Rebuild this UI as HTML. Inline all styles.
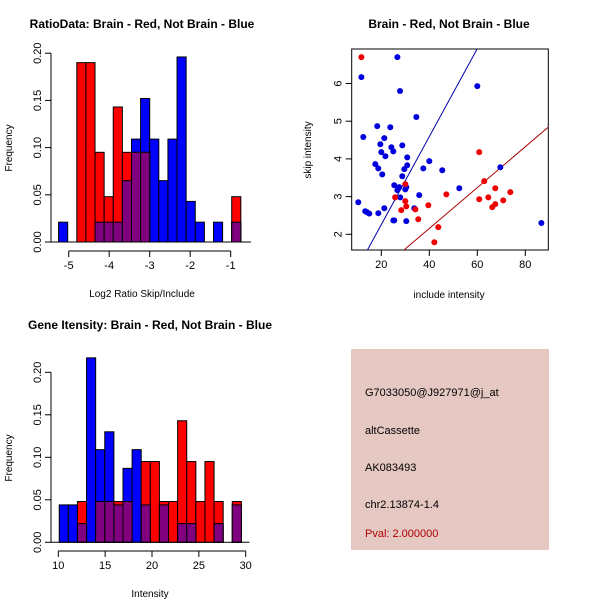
<!DOCTYPE html>
<html><head><meta charset="utf-8"><style>
html,body{margin:0;padding:0;background:#fff;}
svg{display:block;font-family:"Liberation Sans",sans-serif;}
</style></head><body>
<svg id="s" width="600" height="600" viewBox="0 0 600 600">
<rect width="600" height="600" fill="#fff"/>
<text x="142" y="28" font-size="12" font-weight="bold" text-anchor="middle">RatioData: Brain - Red, Not Brain - Blue</text>
<text x="449" y="28" font-size="12" font-weight="bold" text-anchor="middle">Brain - Red, Not Brain - Blue</text>
<text x="150" y="329" font-size="12" font-weight="bold" text-anchor="middle">Gene Itensity: Brain - Red, Not Brain - Blue</text>
<text x="142" y="297" font-size="10" text-anchor="middle">Log2 Ratio Skip/Include</text>
<text x="12" y="148" font-size="10" text-anchor="middle" transform="rotate(-90 12 148)">Frequency</text>
<text x="449" y="298" font-size="10" text-anchor="middle">include intensity</text>
<text x="311" y="150" font-size="10" text-anchor="middle" transform="rotate(-90 311 150)">skip intensity</text>
<text x="150" y="597" font-size="10" text-anchor="middle">Intensity</text>
<text x="12" y="458" font-size="10" text-anchor="middle" transform="rotate(-90 12 458)">Frequency</text>
<g>
<rect x="351" y="349" width="198" height="201" fill="#e6c8c2"/>
<text x="365" y="396" font-size="11">G7033050@J927971@j_at</text>
<text x="365" y="434" font-size="11">altCassette</text>
<text x="365" y="471" font-size="11">AK083493</text>
<text x="365" y="508" font-size="11">chr2.13874-1.4</text>
<text x="365" y="537" font-size="11" fill="#b00000">Pval: 2.000000</text>
</g>
</svg>
<script>
// ratio histogram data
const ratioStart = -5.25, ratioBinWidth = 0.225;
const ratioBlue = [0.021,0,0,0,0.021,0.021,0.021,0.065,0.109,0.152,0.109,0.065,0.109,0.196,0.043,0.021,0,0.021,0,0.021];
const ratioRed  = [0,0,0.19,0.19,0.095,0.048,0.143,0.095,0.095,0.095,0,0,0,0,0,0,0,0,0,0.048];
const ratioXTicks = [-5,-4,-3,-2,-1];
const ratioYTicks = ["0.00","0.05","0.10","0.15","0.20"];
// intensity histogram data
const intStart = 10.1, intBinWidth = 0.972;
const intBlue = [0.044,0.044,0.022,0.217,0.109,0.13,0.044,0.087,0.109,0.044,0,0.044,0,0.022,0.022,0,0,0.022,0,0.044];
const intRed  = [0,0,0.048,0,0.048,0.048,0.048,0.048,0,0.095,0.095,0.048,0.048,0.143,0.095,0.048,0.095,0.048,0,0.048];
const intXTicks = [10,15,20,25,30];
const intYTicks = ["0.00","0.05","0.10","0.15","0.20"];
// scatter data
const blueX = [26.7,11.7,27.8,60.0,34.6,18.3,23.75,12.5,21.25,19.6,24.2,20.0,25.0,28.75,21.7,30.8,40.0,17.5,18.75,29.6,30.8,37.5,45.4,20.4,28.75,25.4,27.5,30.4,26.7,30.0,52.5,27.9,35.8,10.4,13.3,14.2,15.0,18.75,21.25,33.75,25.0,25.4,30.4,69.6,86.7,25.8];
const blueY = [6.70,6.17,5.80,5.93,5.11,4.87,4.84,4.58,4.55,4.39,4.31,4.18,4.20,4.36,4.07,4.04,3.94,3.86,3.75,3.73,3.83,3.75,3.70,3.59,3.54,3.30,3.25,3.25,3.17,3.19,3.22,2.98,3.04,2.85,2.61,2.58,2.55,2.56,2.69,2.69,2.37,2.37,2.35,3.78,2.30,2.98];
const redX = [11.7,60.8,30.0,62.9,67.5,47.1,60.8,64.6,73.75,67.5,66.25,70.8,25.8,30.0,30.4,39.6,28.3,34.2,35.4,43.75,42.1];
const redY = [6.70,4.18,3.33,3.41,3.22,3.06,2.93,2.98,3.12,2.80,2.72,2.90,2.98,2.88,2.74,2.77,2.64,2.66,2.40,2.19,1.79];
const blueFit = [-0.077,0.1167];
const redFit = [-0.013,0.0542];
const scatterXTicks = [20,40,60,80];
const scatterYTicks = [2,3,4,5,6];

const NS="http://www.w3.org/2000/svg", svg=document.getElementById('s');
function mk(tag,attrs,parent){const e=document.createElementNS(NS,tag);for(const k in attrs)e.setAttribute(k,attrs[k]);(parent||svg).appendChild(e);return e;}

function hist(name,start,bw,blue,red,xticks,yticks,sx,sy,xAxisY,yAxisX,xmin,xmax,ymax){
  const g=mk('g',{});
  
  
  const X=v=>sx(v), Y=v=>sy(v);
  const layers=[[blue,'#0000ff','blue'],[red,'#ff0000','red'],[blue.map((b,i)=>Math.min(b,red[i])),'#800080','overlap']];
  layers.forEach(([arr,col,lab])=>{
    arr.forEach((v,i)=>{
      if(v<=0)return;
      const x0=X(start+i*bw),x1=X(start+(i+1)*bw);
      const r=mk('rect',{x:x0,y:Y(v),width:x1-x0,height:Y(0)-Y(v),fill:col,stroke:'#000','stroke-width':1},g);
      
      
    });
  });
  const xa=mk('g',{},g);
  
  
  mk('line',{x1:X(xticks[0]),x2:X(xticks[xticks.length-1]),y1:xAxisY,y2:xAxisY,stroke:'#000'},xa);
  xticks.forEach(t=>{
    mk('line',{x1:X(t),x2:X(t),y1:xAxisY,y2:xAxisY+6,stroke:'#000'},xa);
    const tx=mk('text',{x:X(t),y:xAxisY+18,'font-size':11,'text-anchor':'middle'},xa);tx.textContent=t;
  });
  const ya=mk('g',{},g);
  
  
  mk('line',{x1:yAxisX,x2:yAxisX,y1:Y(0),y2:Y(+yticks[yticks.length-1]),stroke:'#000'},ya);
  yticks.forEach(t=>{
    const yy=Y(+t);
    mk('line',{x1:yAxisX-6,x2:yAxisX,y1:yy,y2:yy,stroke:'#000'},ya);
    const tx=mk('text',{x:yAxisX-10,y:yy,'font-size':11,'text-anchor':'middle',transform:`rotate(-90 ${yAxisX-10} ${yy})`},ya);tx.textContent=t;
  });
  mk('line',{x1:yAxisX,x2:X(xmax),y1:Y(0),y2:Y(0),stroke:'#000'},g);
}
hist('ratio-histogram',ratioStart,ratioBinWidth,ratioBlue,ratioRed,ratioXTicks,ratioYTicks,
  v=>68.7+(v+5)*40.5, v=>242-v*944, 251, 51, -5.3, -0.5, 0.2);
hist('intensity-histogram',intStart,intBinWidth,intBlue,intRed,intXTicks,intYTicks,
  v=>58.3+(v-10)*9.37, v=>542.3-v*850, 551, 51, 10, 30.4, 0.2);

// scatter
(function(){
  const L=351.7,R=548.3,T=49,B=250;
  const sx=v=>333.3+v*2.4, sy=v=>234.3-(v-2)*37.7;
  const g=mk('g',{});
  
  
  mk('defs',{},g).innerHTML='<clipPath id="cp"><rect x="'+L+'" y="'+T+'" width="'+(R-L)+'" height="'+(B-T)+'"/></clipPath>';
  const box=mk('rect',{x:L,y:T,width:R-L,height:B-T,fill:'none',stroke:'#000'},g);
  
  
  scatterXTicks.forEach(t=>{
    mk('line',{x1:sx(t),x2:sx(t),y1:B,y2:B+6,stroke:'#000'},g);
    const tx=mk('text',{x:sx(t),y:B+18,'font-size':11,'text-anchor':'middle'},g);tx.textContent=t;
    
    
  });
  scatterYTicks.forEach(t=>{
    mk('line',{x1:L-6,x2:L,y1:sy(t),y2:sy(t),stroke:'#000'},g);
    const tx=mk('text',{x:L-10,y:sy(t),'font-size':11,'text-anchor':'middle',transform:`rotate(-90 ${L-10} ${sy(t)})`},g);tx.textContent=t;
    
    
  });
  const cg=mk('g',{'clip-path':'url(#cp)'},g);
  [[blueFit,'#0000aa','blue-fit-line'],[redFit,'#aa0000','red-fit-line']].forEach(([f,c,n])=>{
    const l=mk('line',{x1:sx(0),y1:sy(f[0]),x2:sx(100),y2:sy(f[0]+f[1]*100),stroke:c,'stroke-width':1},cg);
    
    
  });
  blueX.forEach((x,i)=>{
    const c=mk('circle',{cx:sx(x),cy:sy(blueY[i]),r:3,fill:'#0000dd'},cg);
    
    
  });
  redX.forEach((x,i)=>{
    const c=mk('circle',{cx:sx(x),cy:sy(redY[i]),r:3,fill:'#ee0000'},cg);
    
    
  });
})();
</script>
</body></html>
